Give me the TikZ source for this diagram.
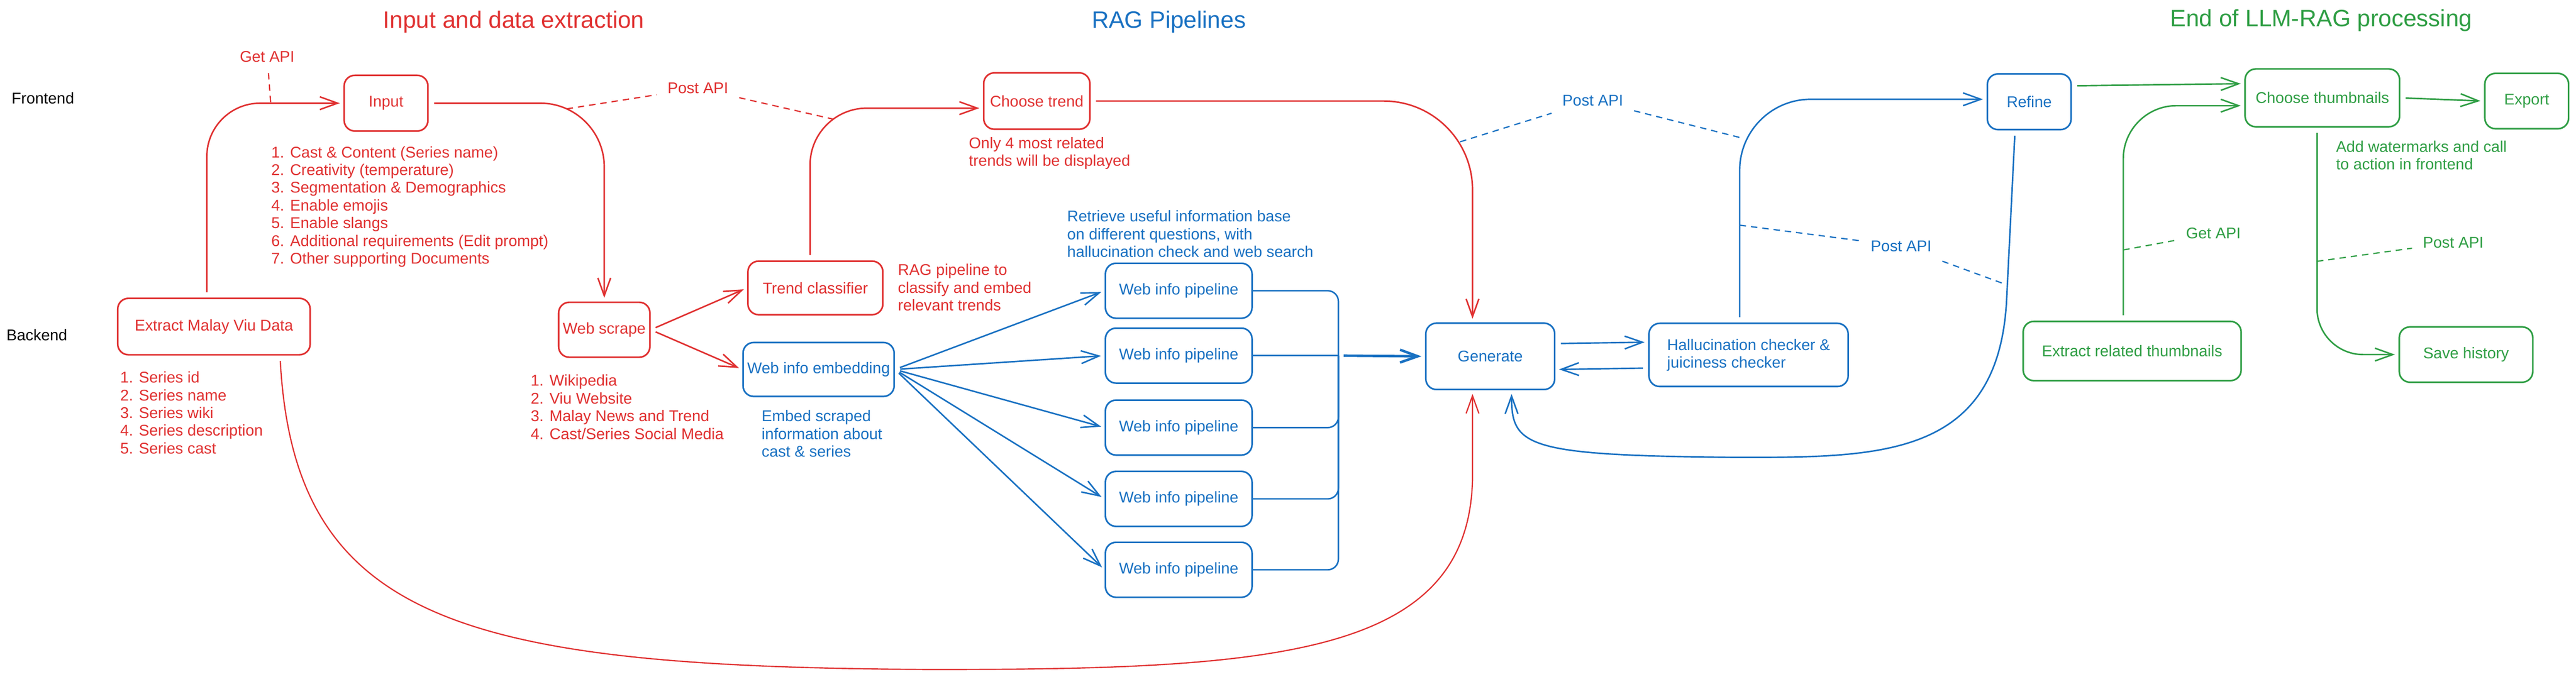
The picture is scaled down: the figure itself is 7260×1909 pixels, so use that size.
\documentclass[tikz,border=0pt]{standalone}
\usepackage{fontspec}
\setmainfont{Liberation Sans}
\usetikzlibrary{arrows.meta}
\definecolor{xred}{HTML}{E03131}
\definecolor{xblue}{HTML}{1971C2}
\definecolor{xgreen}{HTML}{2F9E44}
\tikzset{
	box/.style={draw, line width=1.3pt, rounded corners=3mm, align=center},
	flow/.style={line width=1.2pt, -{Straight Barb[length=5mm,width=3.6mm]}, shorten <=1.5mm, shorten >=1mm},
	apiline/.style={line width=1pt, dash pattern=on 1.8mm off 1.4mm},
	api/.style={inner sep=3mm},
	note/.style={align=left, anchor=west, inner sep=0pt},
	heading/.style={font=\fontsize{19}{22}\selectfont}
}
\begin{document}
\begin{tikzpicture}[x=0.01cm, y=-0.01cm, every node/.style={font=\fontsize{12.5}{14.2}\selectfont}]
			\fill[white] (0,0) rectangle (7260,1909);
			\useasboundingbox (0,0) rectangle (7260,1909);
			\node (frontend) at (121,277) {Frontend};
			\node (backend) at (104,945) {Backend};
			\node[heading, xred] (titleA) at (1448,62) {Input and data extraction};
			\node[heading, xblue] (titleB) at (3294,62) {RAG Pipelines};
			\node[heading, xgreen] (titleC) at (6542,58) {End of LLM-RAG processing};
			\node[box, xred, minimum width=2.36cm, minimum height=1.57cm] (input) at (1088,291) {Input};
			\node[box, xred, minimum width=5.42cm, minimum height=1.59cm] (extract) at (603,921) {Extract Malay Viu Data};
			\node[box, xred, minimum width=2.37cm, minimum height=1.55cm] (scrape) at (1703,930) {Web scrape};
			\node[box, xred, minimum width=3.8cm, minimum height=1.51cm] (trendcls) at (2298,812) {Trend classifier};
			\node[box, xred, minimum width=2.99cm, minimum height=1.59cm] (trend) at (2922,285) {Choose trend};
			\node[box, xblue, minimum width=4.24cm, minimum height=1.52cm] (embed) at (2307,1042) {Web info embedding};
			\foreach \i/\y in {1/820,2/1003,3/1206,4/1407,5/1607} \node[box, xblue, minimum width=4.13cm, minimum height=1.55cm] (pipe\i) at (3322,\y) {Web info pipeline};
			\node[box, xblue, minimum width=3.63cm, minimum height=1.87cm] (generate) at (4200,1005) {Generate};
			\node[box, xblue, minimum width=5.61cm, minimum height=1.78cm, align=left] (checker) at (4928,1001) {Hallucination checker \&\\juiciness checker};
			\node[box, xblue, minimum width=2.36cm, minimum height=1.57cm] (refine) at (5719,287) {Refine};
			\node[box, xgreen, minimum width=4.35cm, minimum height=1.63cm] (choosethumb) at (6545,276) {Choose thumbnails};
			\node[box, xgreen, minimum width=2.36cm, minimum height=1.56cm] (export) at (7121,285) {Export};
			\node[box, xgreen, minimum width=6.14cm, minimum height=1.67cm] (extthumb) at (6009,990) {Extract related thumbnails};
			\node[box, xgreen, minimum width=3.76cm, minimum height=1.56cm] (savehist) at (6950,1000) {Save history};
			\node[note, xred] (inputnote) at (764,583) {1. Cast \& Content (Series name)\\2. Creativity (temperature)\\3. Segmentation \& Demographics\\4. Enable emojis\\5. Enable slangs\\6. Additional requirements (Edit prompt)\\7. Other supporting Documents};
			\node[note, xred] (extractnote) at (338,1164) {1. Series id\\2. Series name\\3. Series wiki\\4. Series description\\5. Series cast};
			\node[note, xred] (scrapenote) at (1495,1148) {1. Wikipedia\\2. Viu Website\\3. Malay News and Trend\\4. Cast/Series Social Media};
			\node[note, xred] (trendnote) at (2730,432) {Only 4 most related\\trends will be displayed};
			\node[note, xred] (clsnote) at (2530,811) {RAG pipeline to\\classify and embed\\relevant trends};
			\node[note, xblue] (embednote) at (2146,1223) {Embed scraped\\information about\\cast \& series};
			\node[note, xblue] (retrievenote) at (3007,660) {Retrieve useful information base\\on different questions, with\\hallucination check and web search};
			\node[note, xgreen] (thumbnote) at (6583,438) {Add watermarks and call\\to action in frontend};
			\node[api, xred] (getA) at (753,160) {Get API};
			\node[api, xred] (postA) at (1967,249) {Post API};
			\node[api, xblue] (postB) at (4489,283) {Post API};
			\node[api, xblue] (postC) at (5358,694) {Post API};
			\node[api, xgreen] (getD) at (6238,658) {Get API};
			\node[api, xgreen] (postE) at (6914,684) {Post API};
			\coordinate (getAend) at (763,291);
			\coordinate (postAin) at (1597,307);
			\coordinate (postAout) at (2348,336);
			\coordinate (postBin) at (4115,400);
			\coordinate (postBout) at (4912,390);
			\coordinate (postCin) at (4903,635);
			\coordinate (postCout) at (5652,802);
			\coordinate (getDend) at (5984,705);
			\coordinate (postEend) at (6530,737);
			\coordinate (merge) at (3772,1003);
			\draw[flow, xred, rounded corners=1.5cm] ([xshift=-0.2cm]extract.north) |- (input.west);
			\draw[flow, xred, rounded corners=1.8cm] (input.east) -| (scrape.north);
			\draw[flow, xred] (scrape.east) -- (trendcls.west);
			\draw[flow, xred] (scrape.east) -- (embed.west);
			\draw[flow, xred, rounded corners=1.6cm] ([xshift=-0.15cm]trendcls.north) |- ([yshift=-0.2cm]trend.west);
			\draw[flow, xred, rounded corners=2.5cm] (trend.east) -| ([xshift=-0.5cm]generate.north);
			\draw[flow, xred, line width=1pt] ([xshift=1.86cm]extract.south) .. controls (830,1750) and (1300,1880) .. (2600,1888) .. controls (3600,1890) and (4140,1850) .. (4150,1350) -- ([xshift=-0.5cm]generate.south);
			\foreach \i in {1,...,5} \draw[flow, xblue] (embed.east) -- (pipe\i.west);
			\foreach \i in {1,3,4,5} \draw[xblue, line width=1.2pt, rounded corners=3mm] (pipe\i.east) -| (merge);
			\draw[xblue, line width=1.2pt] (pipe2.east) -- (merge);
			\draw[flow, xblue, line width=2pt] (merge) -- (generate.west);
			\draw[flow, xblue] ([yshift=0.36cm]generate.east) -- ([yshift=0.36cm]checker.west);
			\draw[flow, xblue] ([yshift=-0.37cm]checker.west) -- ([yshift=-0.37cm]generate.east);
			\draw[flow, xblue, rounded corners=2cm] ([xshift=-0.25cm]checker.north) |- ([yshift=0.07cm]refine.west);
			\draw[flow, xblue] ([xshift=-0.4cm]refine.south) -- (5655,850) .. controls (5630,1290) and (5300,1290) .. (4900,1290) .. controls (4300,1285) and (4260,1260) .. ([xshift=0.6cm]generate.south);
			\draw[flow, xgreen] ([yshift=0.45cm]refine.east) -- ([yshift=0.4cm]choosethumb.west);
			\draw[flow, xgreen, rounded corners=1.5cm] ([xshift=-0.25cm]extthumb.north) |- ([yshift=-0.22cm]choosethumb.west);
			\draw[flow, xgreen] (choosethumb.east) -- (export.west);
			\draw[flow, xgreen, rounded corners=1.3cm] ([xshift=-0.15cm]choosethumb.south) |- (savehist.west);
			\draw[apiline, xred] (getA) -- (getAend);
			\draw[apiline, xred] (postAin) -- (postA) (postA) -- (postAout);
			\draw[apiline, xblue] (postBin) -- (postB) (postB) -- (postBout);
			\draw[apiline, xblue] (postCin) -- (postC) (postC) -- (postCout);
			\draw[apiline, xgreen] (getDend) -- (getD);
			\draw[apiline, xgreen] (postEend) -- (postE);
		\end{tikzpicture}
\end{document}
